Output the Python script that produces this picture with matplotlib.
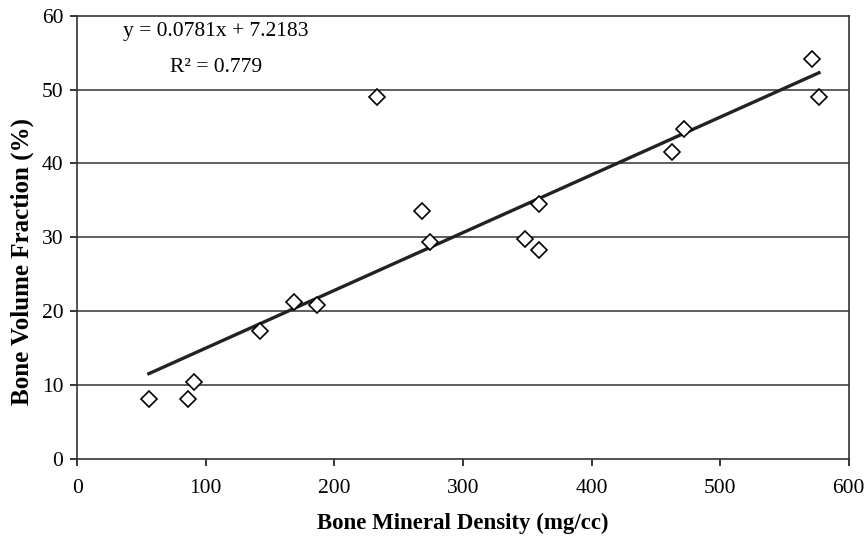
import numpy as np
import matplotlib.pyplot as plt

# densidade mineral ossea (mg/cc) e fracao de volume osseo (%)
densidade = [55.8, 86.2, 91.1, 141.9, 168.6, 186.5, 232.9, 268.1, 274.1,
             348.4, 359.3, 359.3, 462.5, 472.1, 571.4, 576.9]
fracao_volume = [8.2, 8.2, 10.4, 17.3, 21.3, 20.9, 49.0, 33.6, 29.4,
                 29.8, 28.3, 34.5, 41.5, 44.7, 54.1, 49.0]

# coeficientes da reta de tendencia exibidos no grafico
inclinacao = 0.0781
intercepto = 7.2183
r2 = 0.779

x_ticks = [0, 100, 200, 300, 400, 500, 600]
y_ticks = [0, 10, 20, 30, 40, 50, 60]

plt.rcParams['font.family'] = ['Liberation Serif', 'DejaVu Serif']

fig = plt.figure(figsize=(8.66, 5.39), dpi=100)
ax = fig.add_axes([0.0891, 0.148, 0.8909, 0.823])

for y in y_ticks[1:-1]:
    ax.axhline(y, color='#333333', lw=1.1, zorder=1)

x_linha = np.array([min(densidade), max(densidade)])
ax.plot(x_linha, inclinacao * x_linha + intercepto, color='#222222', lw=2.4, zorder=2)
ax.plot(densidade, fracao_volume, linestyle='none', marker='D', ms=8.5,
        mfc='white', mec='black', mew=1.2, zorder=3)

ax.set_xlim(0, 600)
ax.set_ylim(0, 60)
ax.set_xticks(x_ticks)
ax.set_yticks(y_ticks)
ax.tick_params(direction='out', length=5, width=1.1, labelsize=15.5, colors='black')
ax.tick_params(axis='x', pad=9)
ax.tick_params(axis='y', pad=5)
for lado in ['left', 'bottom', 'top', 'right']:
    ax.spines[lado].set_color('#333333')
    ax.spines[lado].set_linewidth(1.2)

ax.set_xlabel("Bone Mineral Density (mg/cc)", fontsize=16.5, fontweight='bold', labelpad=11)
ax.set_ylabel("Bone Volume Fraction (%)", fontsize=18, fontweight='bold')
ax.yaxis.set_label_coords(-0.056, 0.445)

ax.text(108, 57.8, f"y = {inclinacao}x + {intercepto}", ha='center', va='center', fontsize=15.5)
ax.text(108, 53.0, f"R² = {r2}", ha='center', va='center', fontsize=15.5)

plt.savefig("out.png", dpi=100)
plt.close()
